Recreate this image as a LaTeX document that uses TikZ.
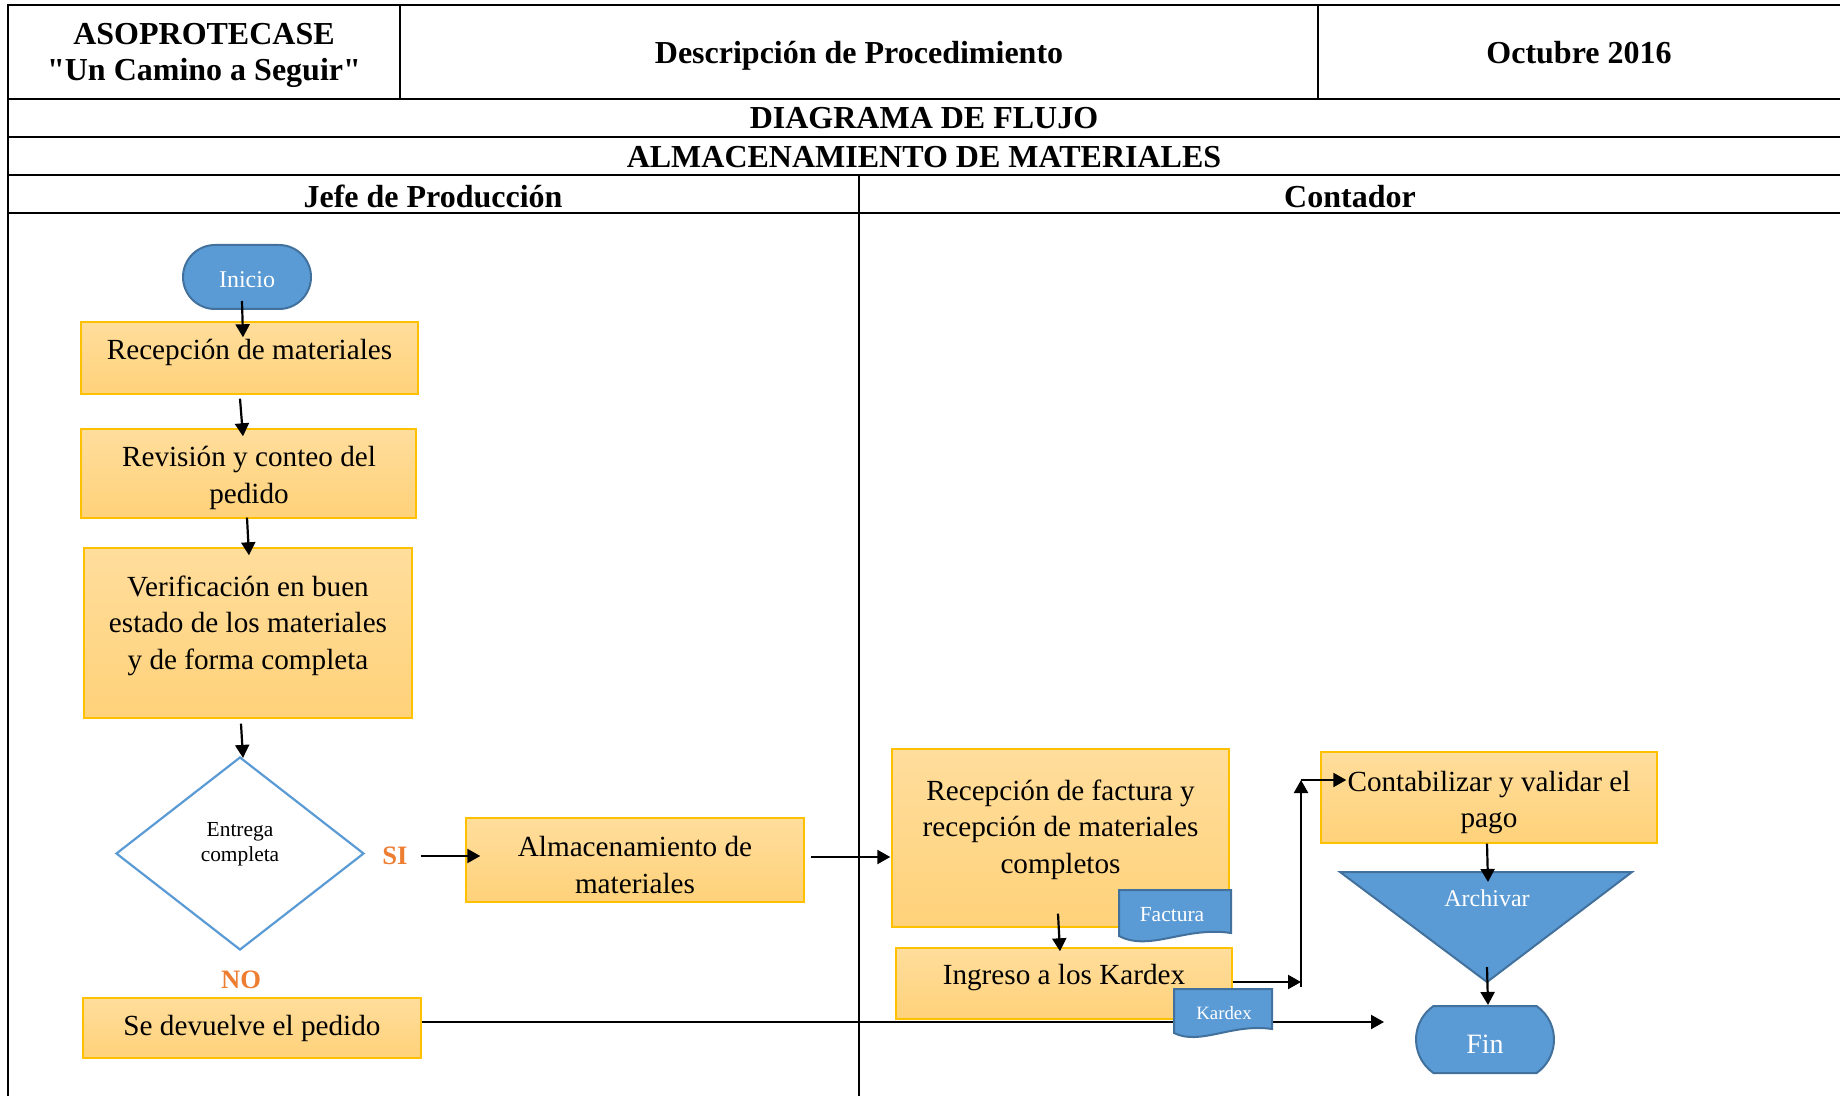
\documentclass[tikz,border=0pt]{standalone}
\usepackage{fontspec}
\setmainfont{Liberation Serif}[Ligatures=TeXOff]
\usetikzlibrary{arrows.meta,calc,shapes.geometric,shapes.misc}
\definecolor{boxtop}{HTML}{FFDD9C}
\definecolor{boxbot}{HTML}{FFD27A}
\definecolor{boxline}{HTML}{FFC000}
\definecolor{blueF}{HTML}{5B9BD5}
\definecolor{blueD}{HTML}{41719C}
\definecolor{orangeT}{HTML}{ED7D31}

\begin{document}
\begin{tikzpicture}[x=0.5pt,y=-0.5pt,
  frame/.style={line width=1.2pt},
  thinframe/.style={line width=0.8pt},
  hdr/.style={font=\fontsize{16}{18}\selectfont\bfseries, align=center, inner sep=0},
  procbox/.style={rectangle, draw=boxline, line width=0.7pt, top color=boxtop, bottom color=boxbot, inner sep=0},
  txt/.style={font=\fontsize{14.6}{18.3}\selectfont, align=center, inner sep=0},
  term/.style={rounded rectangle, draw=blueD, line width=1pt, fill=blueF, inner sep=0},
  docshape/.style={draw=blueD, line width=1pt, fill=blueF},
  whitetxt/.style={text=white, inner sep=0},
  flag/.style={font=\fontsize{13.3}{14}\selectfont\bfseries, text=orangeT, inner sep=0},
  arr/.style={line width=1.1pt, -{Triangle[length=6.5pt,width=7pt]}},
  ]
\useasboundingbox (0,0) rectangle (1840,1096);

% ---------- header table ----------
\draw[frame] (8,1096) -- (8,5) -- (1840,5);
\draw[frame] (8,99) -- (1840,99);
\draw[frame] (8,137) -- (1840,137);
\draw[frame] (8,175) -- (1840,175);
\draw[frame] (8,213) -- (1840,213);
\draw[thinframe] (400,5) -- (400,99);
\draw[thinframe] (1318,5) -- (1318,99);
\draw[thinframe] (859,175) -- (859,1096);

\node[hdr] (org) at (204,55.5) {ASOPROTECASE\\"Un Camino a Seguir"};
\node[hdr] (desc) at (859,55.5) {Descripción de Procedimiento};
\node[hdr] (date) at (1579,53) {Octubre 2016};
\node[hdr] (title) at (924,118) {DIAGRAMA DE FLUJO};
\node[hdr] (sub) at (924,157) {ALMACENAMIENTO DE MATERIALES};
\node[hdr] (lane1) at (433,196.5) {Jefe de Producción};
\node[hdr] (lane2) at (1350,197) {Contador};

% ---------- Jefe de Produccion lane ----------
\node[term, minimum width=64pt, minimum height=32pt] (inicio) at (247,277) {};
\node[whitetxt, font=\fontsize{12}{14}\selectfont] (iniciot) at (247,280) {Inicio};

\node[procbox, minimum width=168.5pt, minimum height=36pt] (rec) at (249.5,358) {};
\node[txt] (rect) at (249.5,352.5) {Recepción de materiales};

\node[procbox, minimum width=167.5pt, minimum height=44.5pt] (rev) at (248.5,473.5) {};
\node[txt] (revt) at (249,478) {Revisión y conteo del\\pedido};

\node[procbox, minimum width=164pt, minimum height=85pt] (ver) at (248,633) {};
\node[txt] (vert) at (248,625.5) {Verificación en buen\\estado de los materiales\\y de forma completa};

\node[diamond, draw=blueF, line width=1.1pt, fill=white, minimum width=124pt, minimum height=96.5pt, inner sep=0] (dia) at (240,853.5) {};
\node[font=\fontsize{10.7}{12.5}\selectfont, align=center, inner sep=0] (diat) at (240,844) {Entrega\\completa};

\node[flag] (si) at (395,856) {SI};
\node[flag] (no) at (241,980) {NO};

\node[procbox, minimum width=169pt, minimum height=42pt] (alm) at (635,860) {};
\node[txt] (almt) at (635,865) {Almacenamiento de\\materiales};

\node[procbox, minimum width=169pt, minimum height=30pt] (dev) at (252,1028) {};
\node[txt] (devt) at (252,1028.5) {Se devuelve el pedido};

% ---------- Contador lane ----------
\node[procbox, minimum width=168.5pt, minimum height=89pt] (fac) at (1060.5,838) {};
\node[txt] (fact) at (1060.5,829.5) {Recepción de factura y\\recepción de materiales\\completos};

\node[procbox, minimum width=168pt, minimum height=35.5pt] (ing) at (1064,983.5) {};
\node[txt] (ingt) at (1064,978) {Ingreso a los Kardex};

\node[procbox, minimum width=168pt, minimum height=45.5pt] (con) at (1489,797.5) {};
\node[txt] (cont) at (1489,802.5) {Contabilizar y validar el\\pago};

% return line from the rejected order towards the end
\coordinate (ret) at (1384,1022);
\draw[arr] ($(dev.east)+(0,-6)$) -- (ret);

% document symbols
\draw[docshape] (1119,890) -- (1231,890) -- (1231,933) .. controls (1185,926) and (1150,952) .. (1119,936) -- cycle;
\node[whitetxt, font=\fontsize{10.75}{12}\selectfont] (factura) at (1172,915) {Factura};
\draw[docshape] (1174,989) -- (1272,989) -- (1272,1029) .. controls (1232,1023) and (1200,1046) .. (1174,1033) -- cycle;
\node[whitetxt, font=\fontsize{9.4}{11}\selectfont] (kardex) at (1224,1013) {Kardex};

% archive (inverted triangle)
\draw[docshape] (1340,872) -- (1632,872) -- (1487,982) -- cycle;
\coordinate (archtop) at (1487,872);
\coordinate (archapex) at (1487,982);
\node[whitetxt, font=\fontsize{12}{14}\selectfont] (arch) at (1487,898) {Archivar};

\node[term, rounded rectangle arc length=110, minimum width=69pt, minimum height=33.5pt] (fin) at (1485,1039.5) {};
\node[whitetxt, font=\fontsize{14}{16}\selectfont] (fint) at (1485,1044) {Fin};

% ---------- connectors ----------
\draw[arr] ($(inicio.south)+(-5,-9)$) -- ($(rec.north)+(-6.5,16)$);
\draw[arr] ($(rec.south)+(-9.5,4)$) -- ($(rev.north)+(-5.5,8)$);
\draw[arr] ($(rev.south)+(-1.5,-1)$) -- ($(ver.north)+(1,8)$);
\draw[arr] ($(ver.south)+(-7,5)$) -- ($(dia.north)+(3,2)$);
\draw[arr] ($(si.east)+(13,0)$) -- ($(alm.west)+(15,-4)$);
\draw[arr] ($(alm.east)+(6,-3)$) -- ($(fac.west)+(-1,19)$);
\draw[arr] ($(fac.south)+(-2.5,-14)$) -- ($(ing.north)+(-4,4)$);

\coordinate (k1) at (1301,982);
\coordinate (k2) at (1301,780);
\draw[arr] ($(ing.east)+(0,-1.5)$) -- (k1);
\draw[line width=1.1pt] (k1) -- ++(0,5);
\draw[arr] (k1) -- (k2);
\draw[arr] (k2) -- ($(con.west)+(26,-17.5)$);

\draw[arr] ($(con.south)+(-2,0)$) -- ($(archtop)+(1,10)$);
\draw[arr] ($(archapex)+(0,-15)$) -- ($(fin.north)+(3,0)$);

\end{tikzpicture}
\end{document}
